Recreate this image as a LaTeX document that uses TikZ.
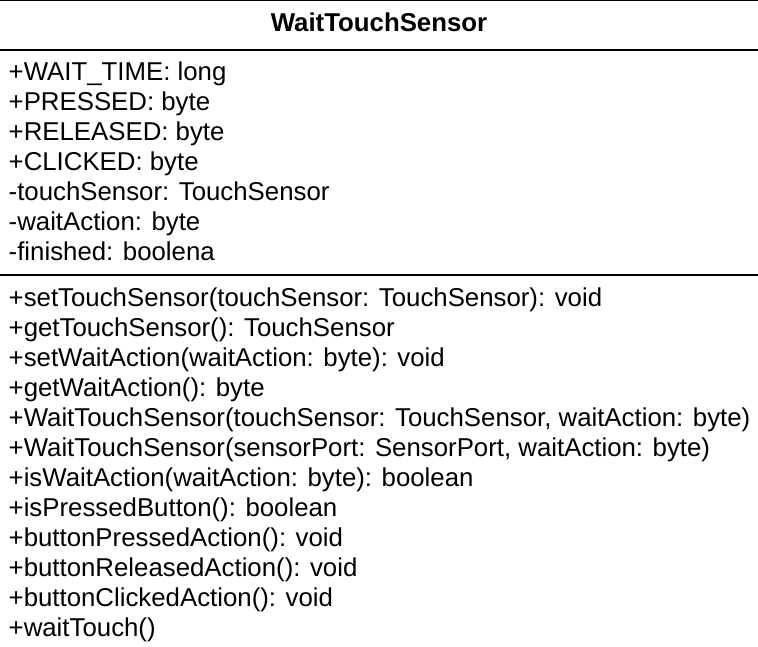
\documentclass[tikz,border=0pt]{standalone}
\usepackage{fontspec}
\setmainfont{Liberation Sans}
\begin{document}
\begin{tikzpicture}[x=1pt,y=-1pt,
  member/.style={anchor=base west, inner sep=0pt, font=\fontsize{25.8}{30}\selectfont},
  classname/.style={anchor=base, inner sep=0pt, font=\fontsize{25.8}{30}\selectfont\bfseries},
  rule/.style={line width=2pt}]
\useasboundingbox (0,0) rectangle (758,647);
\clip (0,0) rectangle (758,647);
% class frame and compartment separators
\draw[rule] (-2,0) rectangle (760,700);
\draw[rule] (-2,50) -- (760,50);
\draw[rule] (-2,275) -- (760,275);
% class name
\node[classname] (title) at (379,32) {WaitTouchSensor};
% attributes
\foreach \txt [count=\i] in {
  {+WAIT\_TIME: long},
  {+PRESSED: byte},
  {+RELEASED: byte},
  {+CLICKED: byte},
  {-touchSensor: TouchSensor},
  {-waitAction: byte},
  {-finished: boolena}}
  \node[member] (attr\i) at (8.5,{50.5+30*\i}) {\txt};
% operations
\foreach \txt [count=\i] in {
  {+setTouchSensor(touchSensor: TouchSensor): void},
  {+getTouchSensor(): TouchSensor},
  {+setWaitAction(waitAction: byte): void},
  {+getWaitAction(): byte},
  {+WaitTouchSensor(touchSensor: TouchSensor, waitAction: byte)},
  {+WaitTouchSensor(sensorPort: SensorPort, waitAction: byte)},
  {+isWaitAction(waitAction: byte): boolean},
  {+isPressedButton(): boolean},
  {+buttonPressedAction(): void},
  {+buttonReleasedAction(): void},
  {+buttonClickedAction(): void},
  {+waitTouch()}}
  \node[member] (op\i) at (8.5,{276.5+30*\i}) {\txt};
\end{tikzpicture}
\end{document}
